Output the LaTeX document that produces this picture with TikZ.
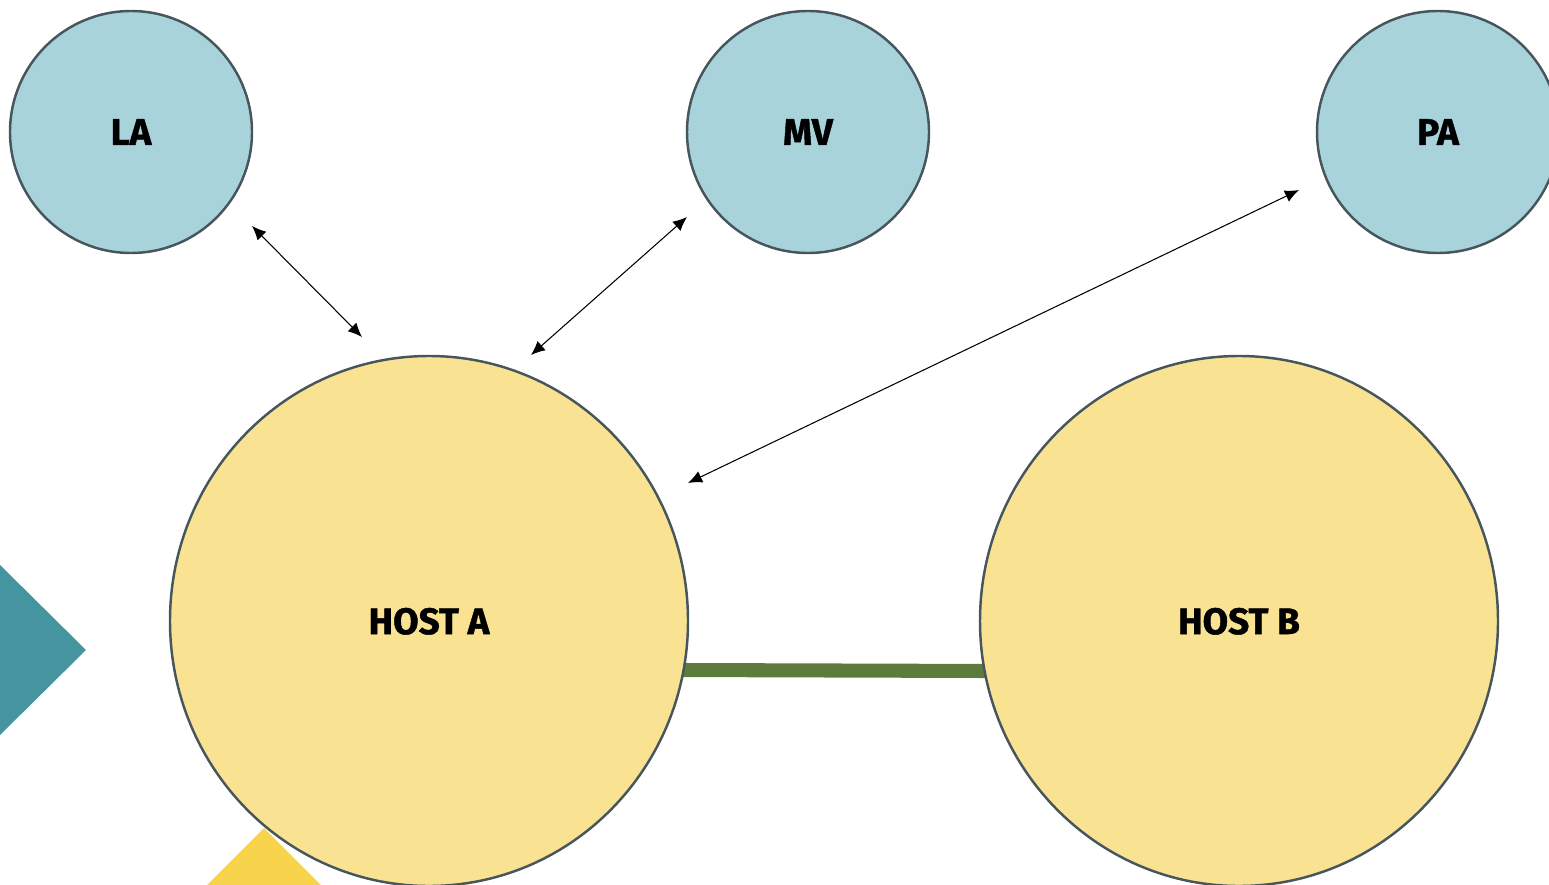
\documentclass[tikz,border=0pt]{standalone}
\usepackage{fontspec}
\setmainfont{Fira Sans}
\newfontfamily\labelfont[FakeBold=1.2]{Fira Sans}
\usetikzlibrary{arrows.meta,shapes.geometric}
\definecolor{peer}{HTML}{A9D3DA}
\definecolor{host}{HTML}{F9E392}
\definecolor{rim}{HTML}{46565C}
\definecolor{link}{HTML}{5E7B3E}
\definecolor{tealtri}{HTML}{44959F}
\definecolor{goldtri}{HTML}{F7D44B}
\tikzset{
  labeltext/.style={font=\fontsize{21}{21}\labelfont\bfseries, text depth=0pt},
  peernode/.style={circle, draw=rim, line width=1.4pt, fill=peer, minimum size=242*0.02cm, inner sep=0pt, labeltext},
  hostnode/.style={ellipse, draw=rim, line width=1.4pt, fill=host, minimum width=518*0.02cm, minimum height=530*0.02cm, inner sep=0pt, labeltext},
  biarrow/.style={{Latex[length=8pt,width=7pt]}-{Latex[length=8pt,width=7pt]}, line width=0.6pt, black},
  wire/.style={link, line width=8pt}
}
\begin{document}
\begin{tikzpicture}[x=0.02cm, y=-0.02cm]
\useasboundingbox (0,0) rectangle (1549,885);
\begin{scope}
\clip (0,0) rectangle (1549,885);
% decorative triangles
\fill[tealtri] (0,565) -- (86,650) -- (0,735) -- cycle;
\fill[goldtri] (264,828) -- (330,894) -- (198,894) -- cycle;
% link between hosts
\draw[wire] (680,670) -- (988,671);
% nodes
\node[peernode] (la) at (131,132) {LA};
\node[peernode] (mv) at (808,132) {MV};
\node[peernode] (pa) at (1438,132) {PA};
\node[hostnode] (hosta) at (429,621) {HOST A};
\node[hostnode] (hostb) at (1239,621) {HOST B};
% arrow ends
\coordinate (laE) at (252,226);
\coordinate (haL) at (362,337);
\coordinate (mvE) at (687,217);
\coordinate (haM) at (531,355);
\coordinate (paE) at (1299,190);
\coordinate (haP) at (688,483);
\draw[biarrow] (laE) -- (haL);
\draw[biarrow] (mvE) -- (haM);
\draw[biarrow] (paE) -- (haP);
\end{scope}
\end{tikzpicture}
\end{document}
